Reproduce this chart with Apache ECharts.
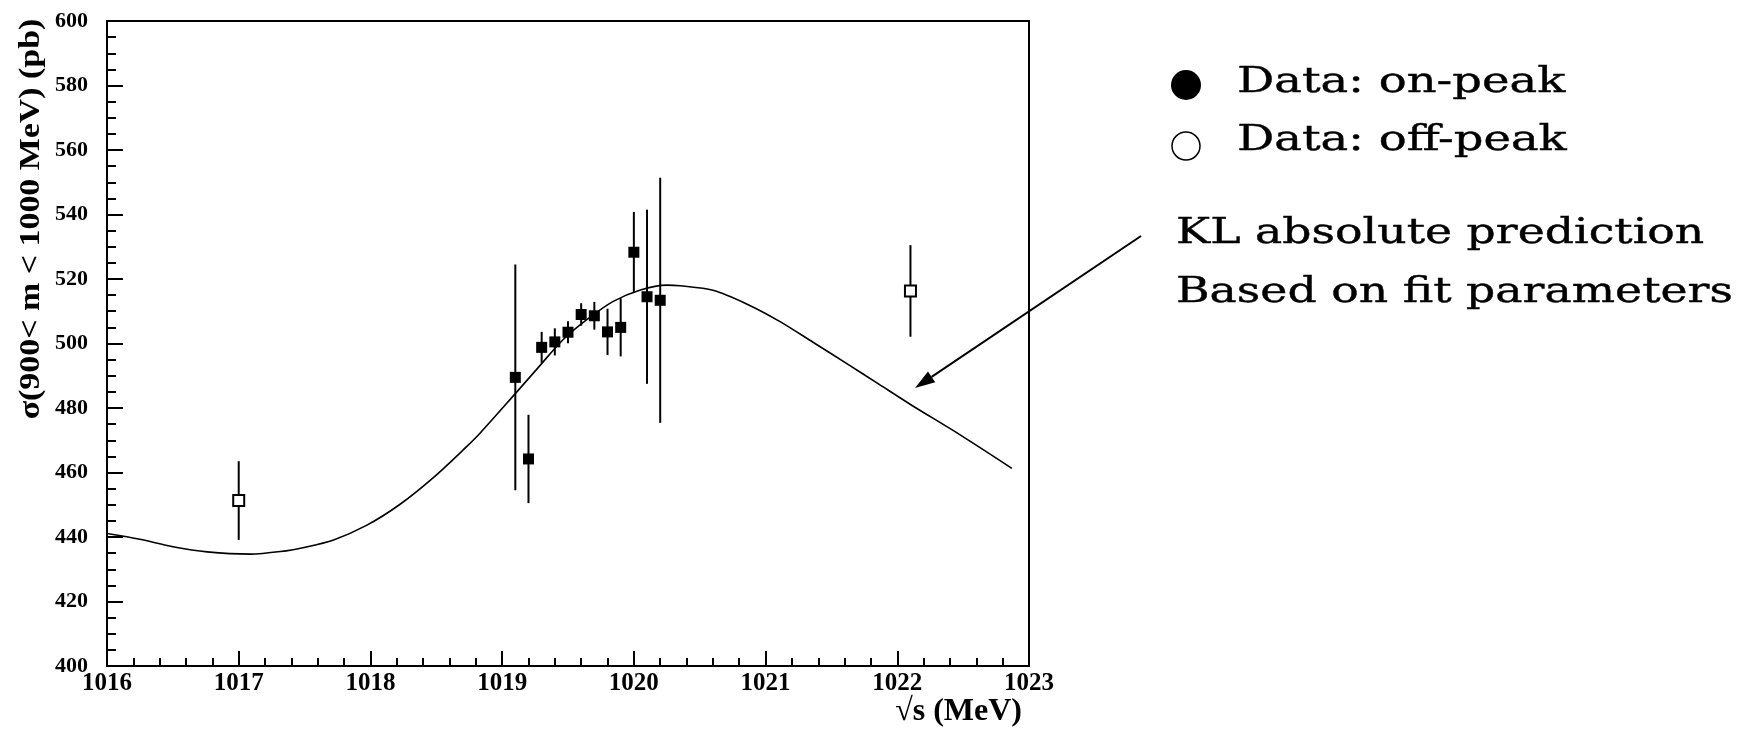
<!DOCTYPE html>
<html>
<head>
<meta charset="utf-8">
<script src="https://cdn.jsdelivr.net/npm/echarts@6/dist/echarts.min.js"></script>
<style>
html,body{margin:0;padding:0;background:#fff;}
#chart{width:1740px;height:729px;}
</style>
</head>
<body>
<div id="chart"></div>
<script>
// ---- data ----
const curveX = [1016.00, 1016.25, 1016.50, 1016.76, 1017.09, 1017.36, 1017.47, 1017.72, 1017.97, 1018.22, 1018.48, 1018.73, 1018.83, 1019.09, 1019.29, 1019.46, 1019.64, 1019.84, 1020.05, 1020.25, 1020.35, 1020.60, 1020.86, 1021.11, 1021.36, 1021.62, 1021.86, 1022.10, 1022.48, 1022.87];
const curveY = [441.1, 439.3, 437.0, 435.4, 434.7, 435.7, 436.5, 439.1, 443.6, 450.0, 458.5, 468.0, 472.1, 484.0, 493.3, 501.1, 507.3, 513.0, 516.6, 518.1, 517.9, 516.5, 512.2, 506.8, 500.4, 493.7, 487.4, 481.1, 471.6, 461.3];

const onPeakX   = [1019.1, 1019.2, 1019.3, 1019.4, 1019.5, 1019.6, 1019.7, 1019.8, 1019.9, 1020.0, 1020.1, 1020.2];
const onPeakY   = [489.5, 464.2, 498.8, 500.5, 503.5, 509.0, 508.6, 503.6, 505.0, 528.3, 514.5, 513.4];
const onPeakErr = [35.0, 13.7, 4.8, 4.2, 3.4, 3.5, 4.3, 7.2, 9.0, 12.5, 27.0, 38.0];

const offPeakX   = [1017.0, 1022.1];
const offPeakY   = [451.3, 516.3];
const offPeakErr = [12.2, 14.2];

const legendLabels = ['Data: on-peak', 'Data: off-peak'];
const noteLines = ['KL absolute prediction', 'Based on fit parameters'];
const yTitle = 'σ(900< m < 1000 MeV) (pb)';
const xTitle = '√s (MeV)';

// ---- build ----
const zip = (a, b) => a.map((v, i) => [v, b[i]]);
const zip3 = (a, b, c) => a.map((v, i) => [v, b[i], c[i]]);

const errRender = function (params, api) {
  const x = api.value(0), y = api.value(1), e = api.value(2);
  const p1 = api.coord([x, y + e]);
  const p2 = api.coord([x, y - e]);
  return {
    type: 'line',
    shape: { x1: p1[0], y1: p1[1], x2: p2[0], y2: p2[1] },
    style: { stroke: '#000', lineWidth: 2 }
  };
};

const tickFont = { fontFamily: 'Liberation Serif', fontWeight: 'bold', color: '#000', formatter: v => String(v) };

const chart = echarts.init(document.getElementById('chart'));

// arrow geometry (annotation)
const aStart = [1141, 236], aTip = [915, 388];
const dx = aTip[0] - aStart[0], dy = aTip[1] - aStart[1];
const L = Math.hypot(dx, dy), ux = dx / L, uy = dy / L;
const headLen = 20, headHalf = 6.5;
const bx = aTip[0] - headLen * ux, by = aTip[1] - headLen * uy;

chart.setOption({
  animation: false,
  backgroundColor: '#fff',
  grid: { left: 107, right: 711, top: 21, bottom: 63, show: true, borderColor: '#000', borderWidth: 2, backgroundColor: 'transparent' },
  xAxis: {
    type: 'value', min: 1016, max: 1023, interval: 1,
    axisLine: { show: true, onZero: false, lineStyle: { color: '#000', width: 2 } },
    axisTick: { show: true, inside: true, length: 15, lineStyle: { color: '#000', width: 2 } },
    minorTick: { show: true, splitNumber: 5, length: 8, lineStyle: { color: '#000', width: 2 } },
    splitLine: { show: false },
    axisLabel: Object.assign({ fontSize: 25, margin: 5 }, tickFont)
  },
  yAxis: {
    type: 'value', min: 400, max: 600, interval: 20,
    axisLine: { show: true, onZero: false, lineStyle: { color: '#000', width: 2 } },
    axisTick: { show: true, inside: true, length: 16, lineStyle: { color: '#000', width: 2 } },
    minorTick: { show: true, splitNumber: 4, length: 9, lineStyle: { color: '#000', width: 2 } },
    splitLine: { show: false },
    axisLabel: Object.assign({ fontSize: 22, margin: 19 }, tickFont)
  },
  series: [
    {
      type: 'line', data: zip(curveX, curveY), smooth: 0.3, showSymbol: false, z: 2,
      lineStyle: { color: '#000', width: 1.6 }
    },
    {
      type: 'custom', data: zip3(onPeakX, onPeakY, onPeakErr), renderItem: errRender,
      encode: { x: 0, y: 1 }, z: 3
    },
    {
      type: 'custom', data: zip3(offPeakX, offPeakY, offPeakErr), renderItem: errRender,
      encode: { x: 0, y: 1 }, z: 3
    },
    {
      type: 'scatter', data: zip(onPeakX, onPeakY), symbol: 'rect', symbolSize: 11, z: 4,
      itemStyle: { color: '#000', opacity: 1 }
    },
    {
      type: 'scatter', data: zip(offPeakX, offPeakY), symbol: 'rect', symbolSize: 11, z: 4,
      itemStyle: { color: '#fff', borderColor: '#000', borderWidth: 2, opacity: 1 }
    }
  ],
  graphic: [
    { type: 'text', x: 31, y: 219, rotation: Math.PI / 2, scaleX: 1.13,
      style: { text: yTitle, font: 'bold 30px "Liberation Serif"', fill: '#000', align: 'center', verticalAlign: 'middle' } },
    { type: 'text', x: 1022, y: 712,
      style: { text: xTitle, font: 'bold 32px "Liberation Serif"', fill: '#000', align: 'right', verticalAlign: 'middle' } },
    { type: 'circle', shape: { cx: 1186, cy: 85, r: 15 }, style: { fill: '#000' } },
    { type: 'circle', shape: { cx: 1186, cy: 146, r: 14 }, style: { fill: '#fff', stroke: '#000', lineWidth: 1.5 } },
    { type: 'text', x: 1237, y: 83, scaleX: 1.29,
      style: { text: legendLabels[0], font: '36px "DejaVu Serif"', fill: '#000', stroke: '#000', lineWidth: 0.4, align: 'left', verticalAlign: 'middle' } },
    { type: 'text', x: 1237, y: 141, scaleX: 1.29,
      style: { text: legendLabels[1], font: '36px "DejaVu Serif"', fill: '#000', stroke: '#000', lineWidth: 0.4, align: 'left', verticalAlign: 'middle' } },
    { type: 'text', x: 1176, y: 234, scaleX: 1.27,
      style: { text: noteLines[0], font: '36px "DejaVu Serif"', fill: '#000', stroke: '#000', lineWidth: 0.4, align: 'left', verticalAlign: 'middle' } },
    { type: 'text', x: 1176, y: 293, scaleX: 1.27,
      style: { text: noteLines[1], font: '36px "DejaVu Serif"', fill: '#000', stroke: '#000', lineWidth: 0.4, align: 'left', verticalAlign: 'middle' } },
    { type: 'line', shape: { x1: aStart[0], y1: aStart[1], x2: bx, y2: by }, style: { stroke: '#000', lineWidth: 2 } },
    { type: 'polygon', shape: { points: [
        [aTip[0], aTip[1]],
        [bx - headHalf * uy, by + headHalf * ux],
        [bx + headHalf * uy, by - headHalf * ux]
      ] }, style: { fill: '#000' } }
  ]
});
</script>
</body>
</html>
